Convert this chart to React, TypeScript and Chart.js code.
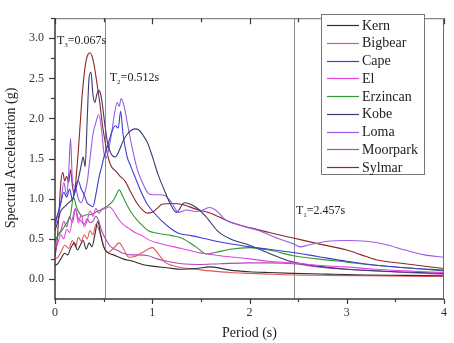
import { useEffect, useRef } from "react";
import { Chart, registerables } from "chart.js";
Chart.register(...registerables);

const SERIES_NAMES = ["Kern", "Bigbear", "Cape", "El", "Erzincan", "Kobe", "Loma", "Moorpark", "Sylmar"];
const SERIES_COLORS = ["#303030", "#e05a5a", "#3c3cd0", "#e244e2", "#2f9a2f", "#3a3a6e", "#9a5ce6", "#b048b8", "#8e2626"];

const kernT = [0, 0.03, 0.06, 0.1, 0.13, 0.16, 0.2, 0.23, 0.26, 0.29, 0.32, 0.35, 0.38, 0.41, 0.44, 0.47, 0.5, 0.54, 0.6, 0.7, 0.8, 0.9, 1.0, 1.15, 1.3, 1.45, 1.6, 1.8, 2.0, 2.2, 2.45, 2.8, 3.2, 3.6, 4.0];
const kernSa = [0.17, 0.19, 0.25, 0.32, 0.3, 0.38, 0.45, 0.36, 0.42, 0.48, 0.37, 0.45, 0.4, 0.55, 0.72, 0.55, 0.4, 0.33, 0.3, 0.25, 0.22, 0.18, 0.16, 0.14, 0.12, 0.13, 0.15, 0.11, 0.09, 0.08, 0.07, 0.06, 0.05, 0.045, 0.04];

const bigbearT = [0, 0.03, 0.06, 0.1, 0.14, 0.18, 0.21, 0.24, 0.27, 0.3, 0.33, 0.36, 0.39, 0.42, 0.45, 0.48, 0.51, 0.55, 0.6, 0.66, 0.71, 0.76, 0.82, 0.9, 1.0, 1.07, 1.13, 1.2, 1.3, 1.45, 1.6, 1.8, 2.0, 2.2, 2.45, 2.8, 3.2, 3.6, 4.0];
const bigbearSa = [0.25, 0.27, 0.33, 0.42, 0.38, 0.48, 0.4, 0.52, 0.47, 0.55, 0.5, 0.6, 0.55, 0.68, 0.62, 0.5, 0.38, 0.33, 0.38, 0.45, 0.36, 0.27, 0.28, 0.33, 0.39, 0.3, 0.21, 0.17, 0.14, 0.12, 0.1, 0.08, 0.07, 0.06, 0.05, 0.045, 0.04, 0.035, 0.03];

const capeT = [0, 0.03, 0.06, 0.09, 0.12, 0.15, 0.18, 0.21, 0.24, 0.27, 0.3, 0.33, 0.36, 0.39, 0.42, 0.45, 0.48, 0.51, 0.54, 0.58, 0.62, 0.65, 0.675, 0.7, 0.74, 0.78, 0.83, 0.88, 0.94, 1.0, 1.1, 1.2, 1.27, 1.4, 1.55, 1.7, 1.85, 2.0, 2.2, 2.45, 2.7, 3.0, 3.3, 3.6, 4.0];
const capeSa = [0.7, 0.82, 0.95, 1.08, 1.02, 1.12, 0.98, 1.15, 1.22, 1.12, 1.05, 0.95, 0.92, 0.9, 1.05, 1.25, 1.4, 1.55, 1.65, 1.82, 1.91, 1.88, 2.09, 1.8, 1.53, 1.4, 1.25, 1.1, 0.95, 0.85, 0.72, 0.62, 0.57, 0.54, 0.5, 0.46, 0.43, 0.4, 0.37, 0.33, 0.28, 0.22, 0.17, 0.14, 0.11];

const elT = [0, 0.03, 0.06, 0.09, 0.12, 0.15, 0.18, 0.21, 0.24, 0.27, 0.3, 0.33, 0.36, 0.39, 0.42, 0.45, 0.48, 0.52, 0.56, 0.6, 0.65, 0.7, 0.76, 0.82, 0.88, 0.96, 1.05, 1.15, 1.3, 1.47, 1.7, 2.0, 2.2, 2.45, 2.7, 3.0, 3.3, 3.6, 4.0];
const elSa = [0.35, 0.45, 0.55, 0.5, 0.62, 0.58, 0.75, 0.88, 0.7, 0.8, 0.65, 0.72, 0.85, 0.78, 0.88, 0.82, 0.86, 0.88, 0.9, 0.85, 0.75, 0.68, 0.63, 0.58, 0.55, 0.49, 0.45, 0.42, 0.38, 0.33, 0.29, 0.25, 0.22, 0.2, 0.17, 0.15, 0.12, 0.1, 0.08];

const erzincanT = [0, 0.04, 0.08, 0.12, 0.16, 0.19, 0.22, 0.25, 0.28, 0.32, 0.36, 0.4, 0.45, 0.5, 0.55, 0.6, 0.63, 0.66, 0.7, 0.75, 0.8, 0.87, 0.96, 1.05, 1.2, 1.3, 1.45, 1.56, 1.65, 1.8, 2.0, 2.2, 2.45, 2.7, 3.0, 3.3, 3.6, 4.0];
const erzincanSa = [0.48, 0.55, 0.62, 0.7, 0.8, 1.02, 0.9, 0.82, 0.78, 0.8, 0.8, 0.82, 0.85, 0.88, 0.92, 0.98, 1.05, 1.11, 1.02, 0.9, 0.8, 0.7, 0.6, 0.57, 0.54, 0.51, 0.4, 0.31, 0.33, 0.37, 0.39, 0.36, 0.29, 0.25, 0.21, 0.17, 0.14, 0.1];

const kobeT = [0, 0.03, 0.06, 0.1, 0.14, 0.18, 0.22, 0.25, 0.27, 0.29, 0.31, 0.33, 0.35, 0.37, 0.39, 0.41, 0.43, 0.45, 0.47, 0.49, 0.51, 0.54, 0.58, 0.62, 0.66, 0.7, 0.74, 0.78, 0.82, 0.86, 0.9, 0.95, 1.0, 1.06, 1.12, 1.18, 1.25, 1.33, 1.44, 1.55, 1.67, 1.8, 2.0, 2.2, 2.45, 2.7, 3.0, 3.5, 4.0];
const kobeSa = [0.6, 0.72, 0.85, 0.9, 0.95, 1.0, 1.15, 1.3, 1.42, 1.52, 1.4, 1.95, 2.5, 2.58, 2.3, 2.2, 2.3, 2.35, 2.3, 2.15, 1.95, 1.7, 1.55, 1.52, 1.6, 1.72, 1.8, 1.85, 1.87, 1.86, 1.8, 1.7, 1.53, 1.3, 1.12, 0.95, 0.83, 0.95, 0.9, 0.78, 0.6, 0.5, 0.42, 0.32, 0.21, 0.16, 0.12, 0.09, 0.07];

const lomaT = [0, 0.03, 0.06, 0.09, 0.12, 0.14, 0.16, 0.18, 0.21, 0.24, 0.27, 0.3, 0.33, 0.36, 0.39, 0.42, 0.45, 0.48, 0.5, 0.52, 0.55, 0.58, 0.61, 0.64, 0.66, 0.68, 0.7, 0.72, 0.75, 0.8, 0.85, 0.9, 0.95, 1.0, 1.07, 1.13, 1.2, 1.27, 1.35, 1.45, 1.52, 1.59, 1.66, 1.75, 1.9, 2.1, 2.3, 2.45, 2.52, 2.6, 2.8, 3.0, 3.2, 3.4, 3.6, 3.8, 4.0];
const lomaSa = [0.65, 0.8, 0.95, 1.2, 1.05, 1.3, 1.75, 1.2, 1.15, 1.0, 0.95, 1.05, 1.2, 1.5, 1.8, 1.95, 2.05, 1.85, 1.6, 1.5, 1.6, 1.8, 2.05, 2.2, 2.15, 2.25, 2.2, 2.1, 1.9, 1.6, 1.35, 1.2, 1.08, 1.05, 1.05, 1.04, 0.95, 0.83, 0.86, 0.84, 0.86, 0.89, 0.85, 0.74, 0.67, 0.6, 0.5, 0.44, 0.4, 0.42, 0.47, 0.48, 0.47, 0.43, 0.36, 0.3, 0.27];

const moorparkT = [0, 0.03, 0.06, 0.09, 0.12, 0.15, 0.18, 0.21, 0.24, 0.27, 0.3, 0.33, 0.36, 0.39, 0.42, 0.45, 0.48, 0.52, 0.56, 0.6, 0.65, 0.7, 0.78, 0.86, 0.96, 1.05, 1.15, 1.3, 1.47, 1.7, 2.0, 2.2, 2.45, 2.7, 3.0, 3.3, 3.6, 4.0];
const moorparkSa = [0.45, 0.55, 0.6, 0.72, 0.65, 0.78, 0.7, 0.87, 0.75, 0.72, 0.68, 0.75, 0.7, 0.72, 0.78, 0.72, 0.6, 0.5, 0.42, 0.38, 0.35, 0.32, 0.3, 0.3, 0.29, 0.25, 0.22, 0.19, 0.18, 0.19, 0.2, 0.2, 0.19, 0.15, 0.12, 0.1, 0.08, 0.06];

const sylmarT = [0, 0.02, 0.04, 0.06, 0.08, 0.1, 0.12, 0.14, 0.16, 0.18, 0.2, 0.22, 0.24, 0.26, 0.28, 0.3, 0.32, 0.34, 0.36, 0.38, 0.4, 0.43, 0.46, 0.49, 0.52, 0.55, 0.58, 0.62, 0.67, 0.72, 0.78, 0.84, 0.9, 0.95, 1.0, 1.05, 1.1, 1.2, 1.3, 1.45, 1.6, 1.8, 2.0, 2.2, 2.45, 2.7, 3.0, 3.15, 3.3, 3.6, 4.0];
const sylmarSa = [0.28, 0.45, 0.8, 1.2, 1.33, 1.22, 1.28, 1.2, 1.36, 1.15, 1.05, 1.3, 1.6, 1.95, 2.3, 2.55, 2.72, 2.8, 2.82, 2.78, 2.68, 2.45, 2.2, 1.9, 1.68, 1.5, 1.4, 1.35, 1.28, 1.22, 1.08, 0.95, 0.86, 0.82, 0.83, 0.88, 0.93, 0.94, 0.93, 0.87, 0.82, 0.71, 0.64, 0.58, 0.51, 0.44, 0.36, 0.3, 0.24, 0.19, 0.13];

const PERIODS = [kernT, bigbearT, capeT, elT, erzincanT, kobeT, lomaT, moorparkT, sylmarT];
const VALUES = [kernSa, bigbearSa, capeSa, elSa, erzincanSa, kobeSa, lomaSa, moorparkSa, sylmarSa];

const X_TICKS = [0, 1, 2, 3, 4];
const Y_TICKS = [0, 0.5, 1, 1.5, 2, 2.5, 3];
const X_MIN = 0, X_MAX = 4, Y_MIN = -0.25, Y_MAX = 3.25;
const MARKERS = [
  { sub: "1", value: 2.457, label: "=2.457s", line: true },
  { sub: "2", value: 0.512, label: "=0.512s", line: true },
  { sub: "3", value: 0.067, label: "=0.067s", line: false },
];
const X_TITLE = "Period (s)";
const Y_TITLE = "Spectral Acceleration (g)";

const FONT = "'Liberation Serif', 'Times New Roman', serif";

const decorPlugin = {
  id: "decor",
  beforeDatasetsDraw(chart: any) {
    const { ctx, chartArea: a, scales } = chart;
    ctx.save();
    ctx.strokeStyle = "#8c8c8c";
    ctx.lineWidth = 1;
    for (const m of MARKERS) {
      if (!m.line) continue;
      const x = Math.round(scales.x.getPixelForValue(m.value)) + 0.5;
      ctx.beginPath();
      ctx.moveTo(x, a.top);
      ctx.lineTo(x, a.bottom);
      ctx.stroke();
    }
    ctx.restore();
  },
  afterDatasetsDraw(chart: any) {
    const { ctx, chartArea: a, scales } = chart;
    const xs = scales.x, ys = scales.y;
    ctx.save();
    ctx.strokeStyle = "#6a6a6a";
    ctx.lineWidth = 1;
    ctx.beginPath();
    ctx.moveTo(a.left, a.top + 0.5);
    ctx.lineTo(a.right - 0.5, a.top + 0.5);
    ctx.lineTo(a.right - 0.5, a.bottom);
    ctx.stroke();
    ctx.strokeStyle = "#3a3a3a";
    ctx.lineWidth = 1.5;
    ctx.beginPath();
    ctx.moveTo(a.left, a.top);
    ctx.lineTo(a.left, a.bottom);
    ctx.lineTo(a.right, a.bottom);
    ctx.stroke();
    ctx.lineWidth = 1.2;
    for (let v = X_MIN; v <= X_MAX + 1e-9; v += 0.5) {
      const major = Math.abs(v - Math.round(v)) < 1e-9;
      const x = Math.round(xs.getPixelForValue(v)) + 0.5;
      const len = major ? 5 : 3;
      ctx.beginPath();
      ctx.moveTo(x, a.bottom);
      ctx.lineTo(x, a.bottom + len);
      ctx.moveTo(x, a.top);
      ctx.lineTo(x, a.top + len + 1);
      ctx.stroke();
    }
    for (let v = 0; v <= Y_MAX + 1e-9; v += 0.25) {
      const major = Math.abs(v * 2 - Math.round(v * 2)) < 1e-9;
      const y = Math.round(ys.getPixelForValue(v)) + 0.5;
      const len = major ? 6 : 4;
      ctx.beginPath();
      ctx.moveTo(a.left, y);
      ctx.lineTo(a.left - len, y);
      ctx.stroke();
    }
    ctx.fillStyle = "#222";
    ctx.textBaseline = "alphabetic";
    const pos: Record<string, [number, number]> = {
      "3": [a.left + 2, a.top + 26],
      "2": [xs.getPixelForValue(0.512) + 5, a.top + 63],
      "1": [xs.getPixelForValue(2.457) + 2, a.top + 196],
    };
    for (const m of MARKERS) {
      const [x0, y0] = pos[m.sub];
      ctx.font = `12px ${FONT}`;
      ctx.fillText("T", x0, y0);
      const w1 = ctx.measureText("T").width;
      ctx.font = `7px ${FONT}`;
      ctx.fillText(m.sub, x0 + w1, y0 + 3);
      const w2 = ctx.measureText(m.sub).width;
      ctx.font = `12px ${FONT}`;
      ctx.fillText(m.label, x0 + w1 + w2, y0);
    }
    ctx.font = `14px ${FONT}`;
    ctx.fillStyle = "#222";
    ctx.textAlign = "center";
    ctx.textBaseline = "middle";
    ctx.fillText(X_TITLE, (a.left + a.right) / 2, 333);
    ctx.save();
    ctx.translate(11, 158);
    ctx.rotate(-Math.PI / 2);
    ctx.fillText(Y_TITLE, 0, 0);
    ctx.restore();
    const lx = 321, ly = 14, lw = 103, lh = 160;
    ctx.fillStyle = "#fff";
    ctx.fillRect(lx, ly, lw, lh);
    ctx.strokeStyle = "#777";
    ctx.lineWidth = 1;
    ctx.strokeRect(lx + 0.5, ly + 0.5, lw, lh);
    ctx.textAlign = "left";
    ctx.font = `14px ${FONT}`;
    chart.data.datasets.forEach((ds: any, i: number) => {
      const y = ly + 11 + i * 17.75;
      ctx.strokeStyle = ds.borderColor;
      ctx.lineWidth = 1.2;
      ctx.beginPath();
      ctx.moveTo(lx + 6, Math.round(y) + 0.5);
      ctx.lineTo(lx + 38, Math.round(y) + 0.5);
      ctx.stroke();
      ctx.fillStyle = "#222";
      ctx.fillText(ds.label, lx + 41, y + 1);
    });
    ctx.restore();
  },
};

export default function App() {
  const ref = useRef<HTMLCanvasElement | null>(null);
  useEffect(() => {
    document.body.style.margin = "0";
    const canvas = ref.current!;
    const chart = new Chart(canvas, {
      type: "line",
      data: {
        datasets: SERIES_NAMES.map((name, i) => ({
          label: name,
          data: PERIODS[i].map((t, j) => ({ x: t, y: VALUES[i][j] })),
          borderColor: SERIES_COLORS[i],
          backgroundColor: SERIES_COLORS[i],
          borderWidth: 1.1,
          pointRadius: 0,
          cubicInterpolationMode: "monotone",
          fill: false,
        })),
      },
      options: {
        animation: false,
        responsive: false,
        devicePixelRatio: 1,
        layout: { padding: { top: 7, right: 4, left: 0, bottom: 0 } },
        plugins: { legend: { display: false }, tooltip: { enabled: false } },
        scales: {
          x: {
            type: "linear",
            min: X_MIN,
            max: X_MAX,
            afterBuildTicks: (s: any) => { s.ticks = X_TICKS.map((v) => ({ value: v })); },
            afterFit: (s: any) => { s.height = 44; },
            grid: { display: true, drawOnChartArea: false, drawTicks: true, tickLength: 0, color: "rgba(0,0,0,0)" },
            border: { display: false },
            ticks: { color: "#333", font: { family: FONT, size: 12 }, padding: 7, maxRotation: 0, callback: (v: any) => String(v) },
          },
          y: {
            type: "linear",
            min: Y_MIN,
            max: Y_MAX,
            afterBuildTicks: (s: any) => { s.ticks = Y_TICKS.map((v) => ({ value: v })); },
            afterFit: (s: any) => { s.width = 55; },
            grid: { display: true, drawOnChartArea: false, drawTicks: true, tickLength: 0, color: "rgba(0,0,0,0)" },
            border: { display: false },
            ticks: { color: "#333", font: { family: FONT, size: 12 }, padding: 11, callback: (v: any) => Number(v).toFixed(1) },
          },
        },
      },
      plugins: [decorPlugin],
    });
    return () => chart.destroy();
  }, []);
  return (
    <div style={{ position: "absolute", left: 0, top: 0, width: 454, height: 343, background: "#fff" }}>
      <canvas ref={ref} width={454} height={343} />
    </div>
  );
}
